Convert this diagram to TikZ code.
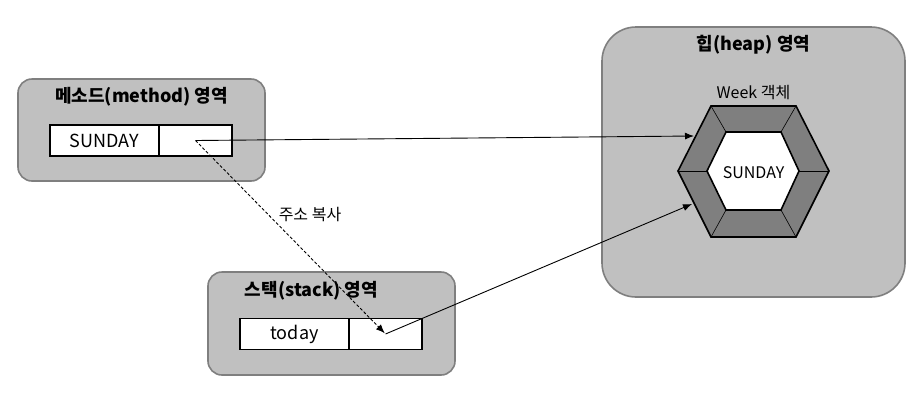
\documentclass[tikz,border=0pt]{standalone}
\usepackage{fontspec}
\setmainfont{Noto Sans CJK KR}
\usetikzlibrary{arrows.meta}
\definecolor{areafill}{RGB}{192,192,192}
\definecolor{areadraw}{RGB}{127,127,127}
\definecolor{hexfill}{RGB}{127,127,127}
\tikzset{
  area/.style={draw=areadraw, fill=areafill, line width=1.6pt, rounded corners=14pt},
  areatitle/.style={font=\fontsize{18}{21}\selectfont\bfseries, inner sep=0pt},
  cell/.style={draw=black, fill=white, line width=1.6pt, minimum height=31pt, inner sep=0pt, font=\fontsize{18}{21}\selectfont},
  link/.style={line width=0.9pt, -{Latex[length=9pt,width=7pt]}},
  small/.style={font=\fontsize{16}{19}\selectfont, inner sep=0pt},
}
\begin{document}
\begin{tikzpicture}[x=1pt,y=-1pt]
\useasboundingbox (0,0) rectangle (918,416);
% method area
\draw[area] (18,79) rectangle (265,181);
\node[areatitle] (mtitle) at (141.5,97) {메소드(method) 영역};
\node[cell, minimum width=109pt] (msun) at (104.5,140.5) {SUNDAY};
\node[cell, minimum width=73pt] (mref) at (195.5,140.5) {};
% stack area
\draw[area] (208,272) rectangle (455,375);
\node[areatitle] (stitle) at (311.5,291) {스택(stack) 영역};
\node[cell, minimum width=109pt] (stoday) at (294.5,334) {today};
\node[cell, minimum width=73pt] (sref) at (385.5,334) {};
% heap area
\draw[area, rounded corners=34pt] (602,27) rectangle (905,297);
\node[areatitle] (htitle) at (753.5,45) {힙(heap) 영역};
% hexagon
\coordinate (o1) at (711,106);
\coordinate (o2) at (796,106);
\coordinate (o3) at (829,171);
\coordinate (o4) at (796,237);
\coordinate (o5) at (711,237);
\coordinate (o6) at (678,171);
\coordinate (i1) at (726,132);
\coordinate (i2) at (781,132);
\coordinate (i3) at (799,171);
\coordinate (i4) at (781,210);
\coordinate (i5) at (726,210);
\coordinate (i6) at (707,171);
\draw[fill=hexfill, line width=1.6pt, line join=miter] (o1)--(o2)--(o3)--(o4)--(o5)--(o6)--cycle;
\foreach \k in {1,...,6} {\draw[line width=0.6pt] (o\k) -- (i\k);}
\draw[fill=white, line width=1.6pt] (i1)--(i2)--(i3)--(i4)--(i5)--(i6)--cycle;
\node[small] (hsun) at (753.5,173) {SUNDAY};
\node[small] (hweek) at (753.5,93) {Week 객체};
\coordinate (t1) at (694,136);
\coordinate (t2) at (692,204);
% connectors
\draw[link] (mref.center) -- (t1);
\draw[link] (sref.center) -- (t2);
\draw[link, dashed, dash pattern=on 3pt off 2pt, shorten >=1pt] (mref.center) -- (sref.center);
\node[small] (copy) at (310,215) {주소 복사};
\end{tikzpicture}
\end{document}
